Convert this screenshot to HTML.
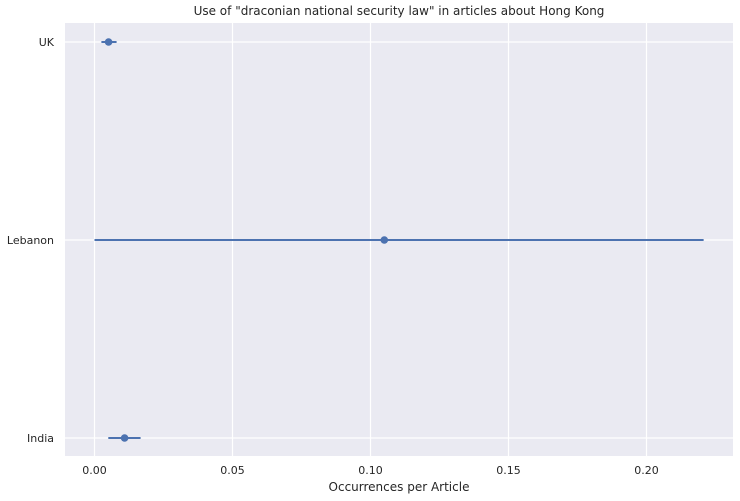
<!DOCTYPE html>
<html><head><meta charset="utf-8"><style>
body{margin:0;background:#fff;}
svg{display:block;font-family:"DejaVu Sans","Liberation Sans",sans-serif;}
</style></head><body>
<svg id="chart" width="740" height="501">
<text x="399" y="15" text-anchor="middle" font-size="12" fill="#262626">Use of "draconian national security law" in articles about Hong Kong</text>
<rect x="65" y="23" width="668" height="433" fill="#eaeaf2"/>
<g id="grid"></g>
<g id="marks"></g>
<text x="399" y="491" text-anchor="middle" font-size="12" fill="#262626">Occurrences per Article</text>
</svg>
<script>
const categories = ["UK", "Lebanon", "India"];
const means = [0.0051, 0.1050, 0.0109];
const lows = [0.0025, 0.0000, 0.0050];
const highs = [0.0080, 0.2207, 0.0167];
const xTicks = [0, 0.05, 0.10, 0.15, 0.20];
const xTickLabels = ["0.00", "0.05", "0.10", "0.15", "0.20"];

const NS = "http://www.w3.org/2000/svg";
const x = v => 94.5 + v * 2760;
const y = i => 42 + i * 198;
const grid = document.getElementById("grid");
const marks = document.getElementById("marks");
const svg = document.getElementById("chart");
function mk(tag, attrs, parent) {
  const e = document.createElementNS(NS, tag);
  for (const k in attrs) e.setAttribute(k, attrs[k]);
  parent.appendChild(e);
  return e;
}
xTicks.forEach((t, i) => {
  const l = mk("line", {x1: x(t), x2: x(t), y1: 23, y2: 456, stroke: "#fff", "stroke-width": 1.2}, grid);
  
  
  const tx = mk("text", {x: x(t), y: 474, "text-anchor": "middle", "font-size": 11, fill: "#262626"}, svg);
  tx.textContent = xTickLabels[i];
  
  
});
categories.forEach((c, i) => {
  const l = mk("line", {x1: 65, x2: 733, y1: y(i), y2: y(i), stroke: "#fff", "stroke-width": 1.2}, grid);
  
  
  const tx = mk("text", {x: 54, y: y(i) + 4, "text-anchor": "end", "font-size": 11, fill: "#262626"}, svg);
  tx.textContent = c;
  
  
  const eb = mk("line", {x1: x(lows[i]), x2: x(highs[i]), y1: y(i), y2: y(i), stroke: "#4c72b0", "stroke-width": 2}, marks);
  
  
  const p = mk("circle", {cx: x(means[i]), cy: y(i), r: 3.8, fill: "#4c72b0"}, marks);
  
  
});
</script>
</body></html>
